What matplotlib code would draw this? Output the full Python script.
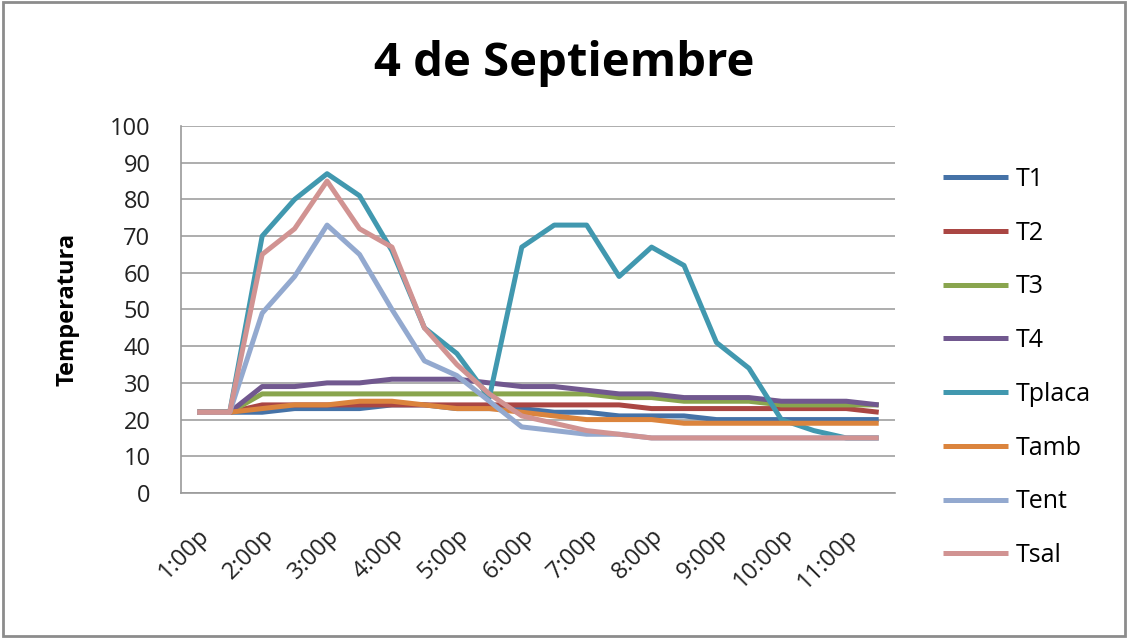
import matplotlib
matplotlib.use("Agg")
import matplotlib.pyplot as plt
from matplotlib.patches import Rectangle

# half-hour readings, 1:00p .. 11:30p
horas = ["1:00p", "1:30p", "2:00p", "2:30p", "3:00p", "3:30p", "4:00p", "4:30p",
         "5:00p", "5:30p", "6:00p", "6:30p", "7:00p", "7:30p", "8:00p", "8:30p",
         "9:00p", "9:30p", "10:00p", "10:30p", "11:00p", "11:30p"]

T1 = [22, 22, 22, 23, 23, 23, 24, 24, 23, 23, 23, 22, 22, 21, 21, 21, 20, 20, 20, 20, 20, 20]
T2 = [22, 22, 24, 24, 24, 24, 24, 24, 24, 24, 24, 24, 24, 24, 23, 23, 23, 23, 23, 23, 23, 22]
T3 = [22, 22, 27, 27, 27, 27, 27, 27, 27, 27, 27, 27, 27, 26, 26, 25, 25, 25, 24, 24, 24, 24]
T4 = [22, 22, 29, 29, 30, 30, 31, 31, 31, 30, 29, 29, 28, 27, 27, 26, 26, 26, 25, 25, 25, 24]
Tplaca = [22, 22, 70, 80, 87, 81, 66, 45, 38, 26, 67, 73, 73, 59, 67, 62, 41, 34, 20, 17, 15, 15]
Tamb = [22, 22, 23, 24, 24, 25, 25, 24, 23, 23, 22, 21, 20, 20, 20, 19, 19, 19, 19, 19, 19, 19]
Tent = [22, 22, 49, 59, 73, 65, 50, 36, 32, 25, 18, 17, 16, 16, 15, 15, 15, 15, 15, 15, 15, 15]
Tsal = [22, 22, 65, 72, 85, 72, 67, 45, 35, 27, 21, 19, 17, 16, 15, 15, 15, 15, 15, 15, 15, 15]

series = [("T1", T1, "#4572A7"), ("T2", T2, "#AA4643"), ("T3", T3, "#89A54E"),
          ("T4", T4, "#71588F"), ("Tplaca", Tplaca, "#4198AF"), ("Tamb", Tamb, "#DB843D"),
          ("Tent", Tent, "#93A9CF"), ("Tsal", Tsal, "#D19392")]

plt.rcParams['font.family'] = ['Open Sans', 'DejaVu Sans']

fig = plt.figure(figsize=(11.28, 6.38), dpi=100)
ax = fig.add_axes([0.1605, 0.2273, 0.6329, 0.5752])

x = list(range(len(horas)))
for name, vals, col in series:
    ax.plot(x, vals, color=col, lw=3.6, label=name, solid_joinstyle='round',
            solid_capstyle='butt')

ax.set_xlim(-0.5, len(horas) - 0.5)
ax.set_ylim(0, 100)
ax.set_yticks(range(0, 101, 10))
ax.yaxis.grid(True, color="#a0a0a0", lw=1.2)
ax.set_axisbelow(True)
ax.tick_params(axis='y', length=0, labelsize=17, pad=22, colors="#222222")
ax.set_xticks(x[::2])
ax.set_xticklabels(horas[::2], rotation=45, ha='right', rotation_mode='anchor',
                   fontsize=17, color="#222222")
ax.tick_params(axis='x', length=0, pad=22)
for s in ["top", "right"]:
    ax.spines[s].set_visible(False)
ax.spines["left"].set_color("#9a9a9a")
ax.spines["bottom"].set_color("#9a9a9a")
ax.spines["left"].set_linewidth(1.2)
ax.spines["bottom"].set_linewidth(1.2)

ax.set_ylabel("Temperatura", fontsize=17, fontweight='bold', labelpad=22)

fig.text(0.5, 0.9, "4 de Septiembre", ha='center', va='center',
         fontsize=34, fontweight='bold')

fig.legend(loc='upper left', bbox_to_anchor=(0.825, 0.758), frameon=False,
           fontsize=18, handlelength=2.6, handletextpad=0.3, labelspacing=1.15,
           borderpad=0)

fig.patches.append(Rectangle((0.003, 0.003), 0.994, 0.994, transform=fig.transFigure,
                             fill=False, edgecolor="#8c8c8c", lw=2))

fig.savefig("out.png", dpi=100)
